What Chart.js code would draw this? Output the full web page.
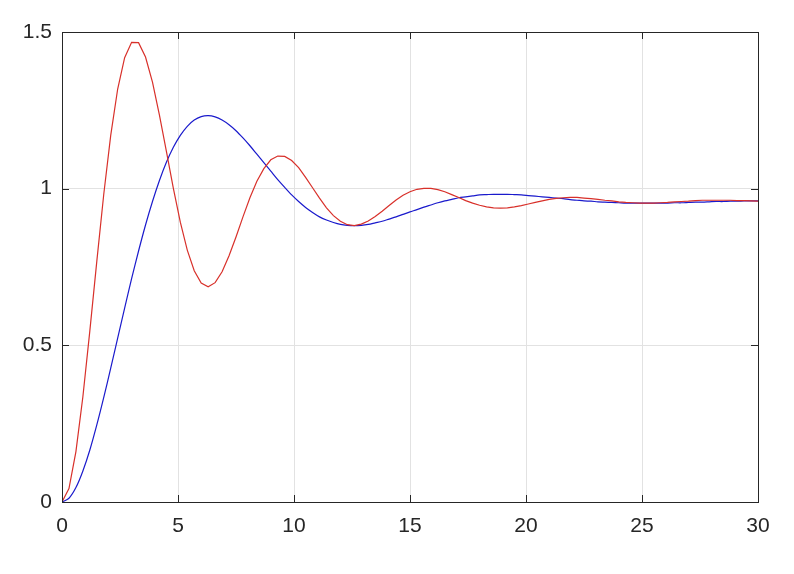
<!DOCTYPE html>
<html>
<head>
<meta charset="utf-8">
<script src="https://cdn.jsdelivr.net/npm/chart.js@4/dist/chart.umd.min.js"></script>
<style>
  html, body { margin: 0; padding: 0; background: #fff; }
  #wrap { width: 794px; height: 574px; }
</style>
</head>
<body>
<div id="wrap"><canvas id="plot" width="794" height="574"></canvas></div>
<script>
// sample times (s)
const times = [
  0, 0.3, 0.6, 0.9, 1.2, 1.5, 1.8, 2.1, 2.4, 2.7,
  3, 3.3, 3.6, 3.9, 4.2, 4.5, 4.8, 5.1, 5.4, 5.7,
  6, 6.3, 6.6, 6.9, 7.2, 7.5, 7.8, 8.1, 8.4, 8.7,
  9, 9.3, 9.6, 9.9, 10.2, 10.5, 10.8, 11.1, 11.4, 11.7,
  12, 12.3, 12.6, 12.9, 13.2, 13.5, 13.8, 14.1, 14.4, 14.7,
  15, 15.3, 15.6, 15.9, 16.2, 16.5, 16.8, 17.1, 17.4, 17.7,
  18, 18.3, 18.6, 18.9, 19.2, 19.5, 19.8, 20.1, 20.4, 20.7,
  21, 21.3, 21.6, 21.9, 22.2, 22.5, 22.8, 23.1, 23.4, 23.7,
  24, 24.3, 24.6, 24.9, 25.2, 25.5, 25.8, 26.1, 26.4, 26.7,
  27, 27.3, 27.6, 27.9, 28.2, 28.5, 28.8, 29.1, 29.4, 29.7,
  30
];

// fast response (red)
const fastResp = [
  0, 0.043, 0.161, 0.336, 0.546, 0.768, 0.982, 1.170, 1.318, 1.418,
  1.467, 1.466, 1.420, 1.340, 1.235, 1.119, 1.001, 0.893, 0.804, 0.738,
  0.699, 0.687, 0.700, 0.735, 0.786, 0.846, 0.910, 0.971, 1.024, 1.064,
  1.092, 1.104, 1.103, 1.090, 1.067, 1.036, 1.003, 0.970, 0.939, 0.914,
  0.896, 0.885, 0.882, 0.887, 0.897, 0.911, 0.928, 0.946, 0.964, 0.979,
  0.990, 0.998, 1.001, 1.001, 0.997, 0.990, 0.981, 0.972, 0.962, 0.954,
  0.947, 0.942, 0.939, 0.938, 0.939, 0.942, 0.946, 0.951, 0.956, 0.961,
  0.966, 0.969, 0.971, 0.972, 0.972, 0.970, 0.968, 0.966, 0.963, 0.961,
  0.958, 0.956, 0.955, 0.954, 0.954, 0.954, 0.955, 0.956, 0.958, 0.959,
  0.960, 0.962, 0.963, 0.963, 0.963, 0.963, 0.963, 0.962, 0.962, 0.961,
  0.960
];

// slow response (blue)
const slowResp = [
  0, 0.012, 0.046, 0.099, 0.166, 0.246, 0.334, 0.427, 0.523, 0.619,
  0.713, 0.801, 0.884, 0.959, 1.026, 1.084, 1.132, 1.170, 1.199, 1.219,
  1.230, 1.233, 1.229, 1.219, 1.204, 1.185, 1.162, 1.137, 1.110, 1.083,
  1.056, 1.029, 1.004, 0.980, 0.959, 0.940, 0.924, 0.910, 0.900, 0.892,
  0.886, 0.883, 0.882, 0.883, 0.886, 0.891, 0.896, 0.903, 0.910, 0.918,
  0.926, 0.933, 0.941, 0.948, 0.955, 0.961, 0.966, 0.971, 0.974, 0.977,
  0.980, 0.981, 0.982, 0.982, 0.982, 0.981, 0.980, 0.978, 0.976, 0.974,
  0.972, 0.970, 0.968, 0.965, 0.963, 0.961, 0.960, 0.958, 0.957, 0.956,
  0.955, 0.954, 0.954, 0.954, 0.954, 0.954, 0.954, 0.954, 0.955, 0.955,
  0.956, 0.957, 0.957, 0.958, 0.959, 0.959, 0.960, 0.960, 0.961, 0.961,
  0.961
];

const xTicks = [0, 5, 10, 15, 20, 25, 30];
const yTicks = [0, 0.5, 1, 1.5];

const axisColor = '#262626';
const tickFont = { family: 'Liberation Sans, Arial, sans-serif', size: 21 };
const toPoints = (ys) => times.map((t, i) => ({ x: t, y: ys[i] }));

// box round the plot with inward ticks on all four sides
const boxPlugin = {
  id: 'box',
  afterDraw(chart) {
    const { ctx, chartArea: a, scales } = chart;
    const len = 7;
    ctx.save();
    ctx.strokeStyle = axisColor;
    ctx.lineWidth = 1;
    ctx.beginPath();
    xTicks.forEach(v => {
      const px = Math.round(scales.x.getPixelForValue(v)) + 0.5;
      ctx.moveTo(px, a.bottom); ctx.lineTo(px, a.bottom - len);
      ctx.moveTo(px, a.top); ctx.lineTo(px, a.top + len);
    });
    yTicks.forEach(v => {
      const py = Math.round(scales.y.getPixelForValue(v)) + 0.5;
      ctx.moveTo(a.left, py); ctx.lineTo(a.left + len, py);
      ctx.moveTo(a.right, py); ctx.lineTo(a.right - len, py);
    });
    ctx.stroke();
    ctx.strokeRect(Math.round(a.left) + 0.5, Math.round(a.top) + 0.5,
      Math.round(a.right - a.left), Math.round(a.bottom - a.top));
    ctx.restore();
  }
};

new Chart(document.getElementById('plot'), {
  type: 'line',
  data: {
    datasets: [
      { data: toPoints(fastResp), borderColor: '#d8302a', borderWidth: 1.2, pointRadius: 0, tension: 0 },
      { data: toPoints(slowResp), borderColor: '#1a1acc', borderWidth: 1.2, pointRadius: 0, tension: 0.3 }
    ]
  },
  options: {
    responsive: false,
    animation: false,
    layout: { padding: { top: 32, right: 36, left: 0, bottom: 0 } },
    plugins: { legend: { display: false }, tooltip: { enabled: false } },
    scales: {
      x: {
        type: 'linear', min: 0, max: 30,
        afterFit: (s) => { s.height = 72; },
        afterBuildTicks: (s) => { s.ticks = xTicks.map(v => ({ value: v })); },
        border: { display: false },
        grid: { color: '#e2e2e2', drawTicks: false },
        ticks: { padding: 12, color: axisColor, font: tickFont, callback: (v) => String(v) }
      },
      y: {
        type: 'linear', min: 0, max: 1.5,
        afterFit: (s) => { s.width = 62; },
        afterBuildTicks: (s) => { s.ticks = yTicks.map(v => ({ value: v })); },
        border: { display: false },
        grid: { color: '#e2e2e2', drawTicks: false },
        ticks: { padding: 10, color: axisColor, font: tickFont, callback: (v) => String(v) }
      }
    }
  },
  plugins: [boxPlugin]
});
</script>
</body>
</html>
